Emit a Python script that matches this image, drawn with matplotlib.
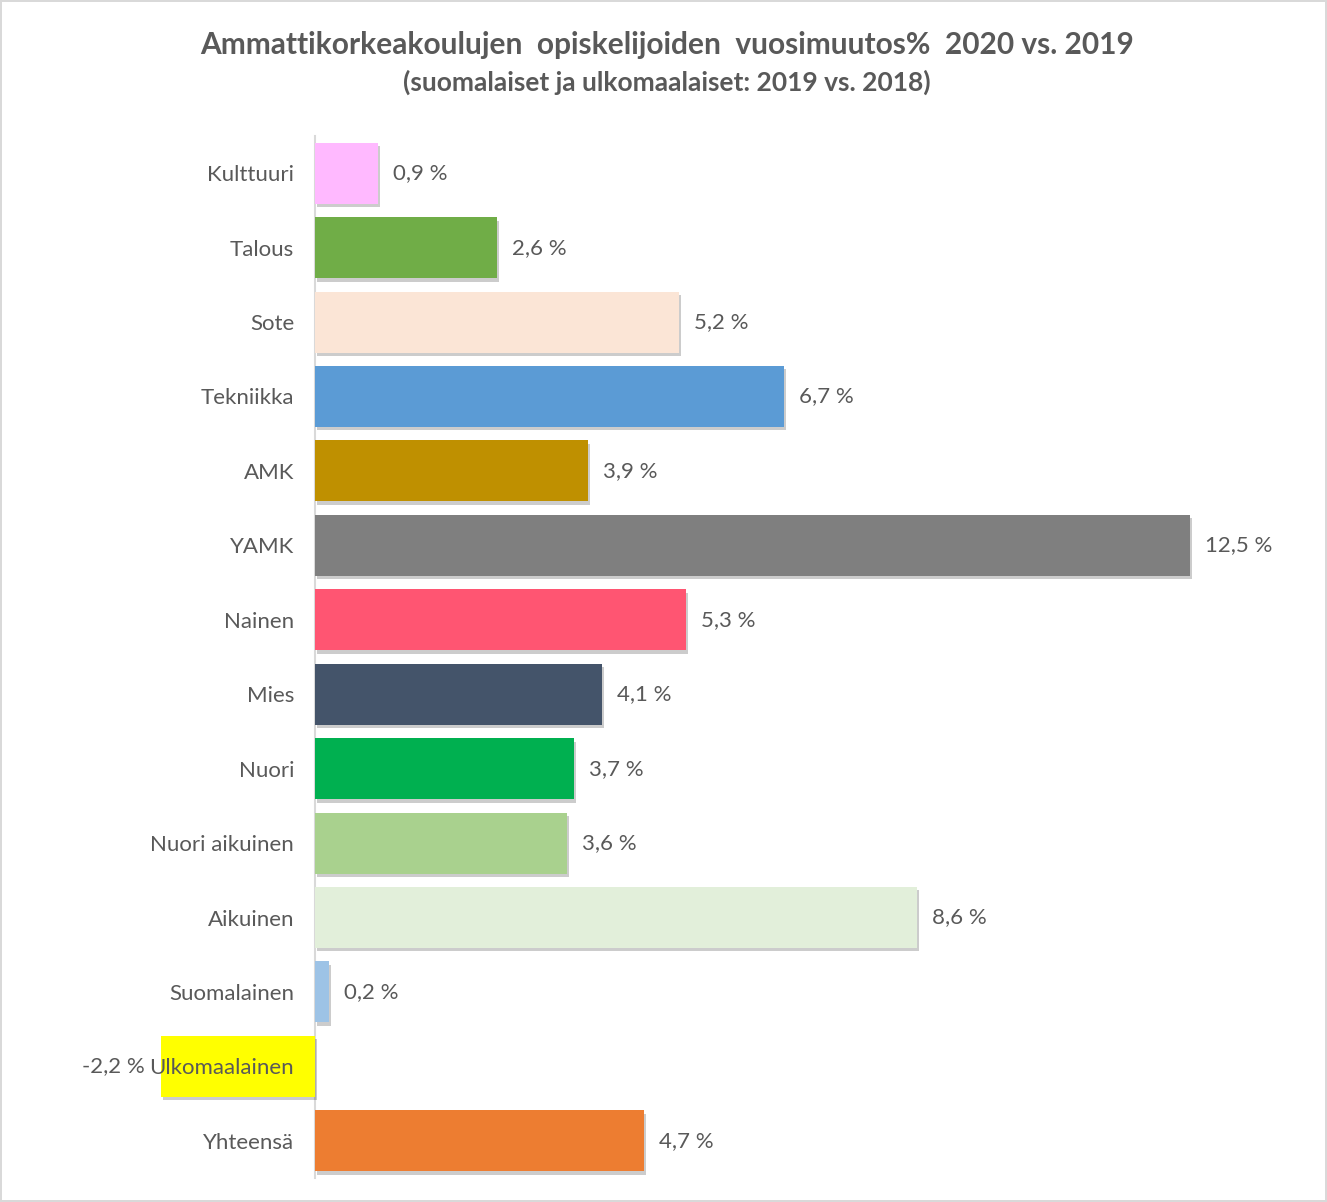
import matplotlib.pyplot as plt
import matplotlib.patheffects as pe

categories = ["Kulttuuri", "Talous", "Sote", "Tekniikka", "AMK", "YAMK", "Nainen",
              "Mies", "Nuori", "Nuori aikuinen", "Aikuinen", "Suomalainen",
              "Ulkomaalainen", "Yhteensä"]
values = [0.9, 2.6, 5.2, 6.7, 3.9, 12.5, 5.3, 4.1, 3.7, 3.6, 8.6, 0.2, -2.2, 4.7]
colors = ["#FFB9FF", "#70AD47", "#FBE5D6", "#5B9BD5", "#BF9000", "#7F7F7F", "#FF5572",
          "#44546A", "#00B050", "#A9D18E", "#E2EFDA", "#9DC3E6", "#FFFF00", "#ED7D31"]

title = "Ammattikorkeakoulujen  opiskelijoiden  vuosimuutos%  2020 vs. 2019"
subtitle = "(suomalaiset ja ulkomaalaiset: 2019 vs. 2018)"

plt.rcParams['font.family'] = ['Lato', 'DejaVu Sans']
grey = "#595959"

W, H = 1327, 1202
fig = plt.figure(figsize=(W / 100, H / 100), dpi=100)
fig.patch.set_edgecolor("#D9D9D9")
fig.patch.set_linewidth(1.5)

# axes placed so that x=0 sits at ~315 px, 70 px per percent
left_px, right_px, top_px, bot_px = 100, 1300, 136, 1178
ax = fig.add_axes([left_px / W, 1 - bot_px / H, (right_px - left_px) / W, (bot_px - top_px) / H])
ax.set_xlim((left_px - 315) / 70, (right_px - 315) / 70)
ax.set_ylim(len(categories) - 0.5, -0.5)

for s in ["top", "right", "bottom"]:
    ax.spines[s].set_visible(False)
ax.spines["left"].set_position(("data", 0))
ax.spines["left"].set_color("#D9D9D9")
ax.spines["left"].set_linewidth(1.5)
ax.spines["left"].set_zorder(1)
ax.set_axisbelow(False)  # tick labels above bars (Ulkomaalainen overlaps its bar)

pos = range(len(categories))
bars = ax.barh(pos, values, height=0.82, color=colors, zorder=2)
for b in bars:
    b.set_path_effects([pe.SimplePatchShadow(offset=(1.5, -2.5), shadow_rgbFace="#000000", alpha=0.2),
                        pe.Normal()])

for i, v in enumerate(values):
    txt = f"{v:.1f}".replace(".", ",") + " %"
    if v >= 0:
        ax.annotate(txt, (v, i), xytext=(11, 0), textcoords="offset points",
                    va="center", ha="left", fontsize=16, color=grey)
    else:
        ax.annotate(txt, (v, i), xytext=(-12, 0), textcoords="offset points",
                    va="center", ha="right", fontsize=16, color=grey)

ax.set_xticks([])
ax.set_yticks(list(pos))
ax.set_yticklabels(categories, fontsize=16, color=grey)
ax.tick_params(axis="y", length=0, pad=15)

fig.text(667 / W, 1 - 45 / H, title, ha="center", va="center", fontsize=21.5,
         fontweight="bold", color=grey)
fig.text(667 / W, 1 - 82 / H, subtitle, ha="center", va="center", fontsize=19,
         fontweight="bold", color=grey)

fig.savefig("out.png", dpi=100)
